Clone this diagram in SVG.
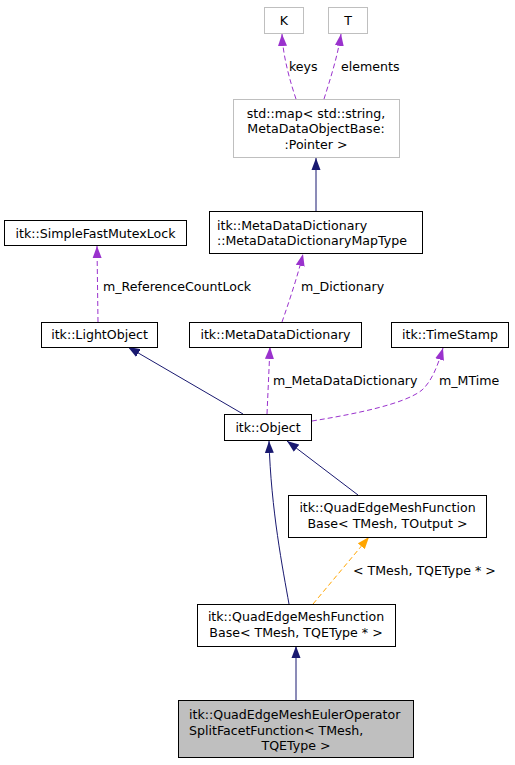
<svg xmlns="http://www.w3.org/2000/svg" width="515" height="765" viewBox="0 0 515 765">
<style>
text{font-family:"DejaVu Sans","Liberation Sans",sans-serif;font-size:12.6px;fill:#000}
.c{text-anchor:middle}
.box{fill:#fff;stroke:#000;stroke-width:1}
.gbox{fill:#fff;stroke:#bfbfbf;stroke-width:1}
.cur{fill:#bfbfbf;stroke:#000;stroke-width:1}
.inh{fill:none;stroke:#191970;stroke-width:1;marker-end:url(#aN)}
.use{fill:none;stroke:#9a32cd;stroke-width:1;stroke-dasharray:5,3;marker-end:url(#aP)}
.tpl{fill:none;stroke:#ffa500;stroke-width:1;stroke-dasharray:5,3;marker-end:url(#aO)}
</style>
<defs>
<marker id="aN" markerUnits="userSpaceOnUse" markerWidth="12" markerHeight="10" refX="12" refY="5" orient="auto"><path d="M0,0.5 L12,5 L0,9.5 z" fill="#191970"/></marker>
<marker id="aP" markerUnits="userSpaceOnUse" markerWidth="12" markerHeight="10" refX="12" refY="5" orient="auto"><path d="M0,0.5 L12,5 L0,9.5 z" fill="#9a32cd"/></marker>
<marker id="aO" markerUnits="userSpaceOnUse" markerWidth="12" markerHeight="10" refX="12" refY="5" orient="auto"><path d="M0,0.5 L12,5 L0,9.5 z" fill="#ffa500"/></marker>
</defs>
<g id="edges">
<path class="use" d="M296,99 C291,84 283,58 282,34"/>
<text x="289" y="71">keys</text>
<path class="use" d="M324,99 C330,80 338,55 341,34"/>
<text x="341" y="71">elements</text>
<path class="inh" d="M316,211 L316,158"/>
<path class="use" d="M282,322 C288,305 298,275 303,254"/>
<text x="301" y="291">m_Dictionary</text>
<path class="use" d="M98,322 L97,246"/>
<text x="103" y="291">m_ReferenceCountLock</text>
<path class="use" d="M267,414 L270,347"/>
<text x="273" y="385">m_MetaDataDictionary</text>
<path class="use" d="M312,421 C355,414 405,404 422,390 C432,381 438,365 443,348"/>
<text x="439" y="385">m_MTime</text>
<path class="inh" d="M243,414 L128,347"/>
<path class="inh" d="M289,604 C283,570 271,510 269,441"/>
<path class="inh" d="M358,495 L287,441"/>
<path class="tpl" d="M313,604 L369,537"/>
<text x="353" y="575">&lt; TMesh, TQEType * &gt;</text>
<path class="inh" d="M296,700 L296,646"/>
</g>
<g id="nodeK"><rect class="gbox" x="264.5" y="7.5" width="39" height="26"/><text class="c" x="284" y="25">K</text></g>
<g id="nodeT"><rect class="gbox" x="328.5" y="7.5" width="39" height="26"/><text class="c" x="348" y="25">T</text></g>
<g id="nodeMap"><rect class="gbox" x="233.5" y="99.5" width="166" height="58"/>
<text class="c" x="316" y="117.5">std::map&lt; std::string,</text>
<text class="c" x="316" y="133">MetaDataObjectBase:</text>
<text class="c" x="316" y="148.5">:Pointer &gt;</text></g>
<g id="nodeMapType"><rect class="box" x="209.5" y="211.5" width="213" height="42"/>
<text x="217" y="229.5">itk::MetaDataDictionary</text>
<text x="217" y="245">::MetaDataDictionaryMapType</text></g>
<g id="nodeMutex"><rect class="box" x="4.5" y="220.5" width="182" height="25"/><text class="c" x="95.5" y="237.5">itk::SimpleFastMutexLock</text></g>
<g id="nodeLight"><rect class="box" x="41.5" y="322.5" width="116" height="25"/><text class="c" x="99.5" y="339">itk::LightObject</text></g>
<g id="nodeMDD"><rect class="box" x="189.5" y="322.5" width="172" height="25"/><text class="c" x="275.5" y="339">itk::MetaDataDictionary</text></g>
<g id="nodeTime"><rect class="box" x="391.5" y="322.5" width="117" height="25"/><text class="c" x="450" y="339">itk::TimeStamp</text></g>
<g id="nodeObject"><rect class="box" x="224.5" y="414.5" width="87" height="26"/><text class="c" x="268" y="432">itk::Object</text></g>
<g id="nodeFBOut"><rect class="box" x="288.5" y="495.5" width="198" height="42"/>
<text class="c" x="387.5" y="512">itk::QuadEdgeMeshFunction</text>
<text class="c" x="387.5" y="527.5">Base&lt; TMesh, TOutput &gt;</text></g>
<g id="nodeFBQE"><rect class="box" x="197.5" y="604.5" width="198" height="42"/>
<text class="c" x="296" y="621">itk::QuadEdgeMeshFunction</text>
<text class="c" x="296" y="636.5">Base&lt; TMesh, TQEType * &gt;</text></g>
<g id="nodeSplit"><rect class="cur" x="178.5" y="700.5" width="235" height="57"/>
<text x="189" y="719">itk::QuadEdgeMeshEulerOperator</text>
<text x="189" y="734.5">SplitFacetFunction&lt; TMesh,</text>
<text class="c" x="296" y="750">TQEType &gt;</text></g>
</svg>
